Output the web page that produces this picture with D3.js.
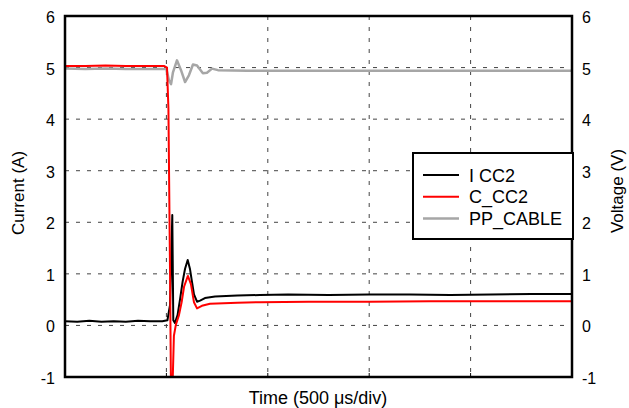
<!DOCTYPE html>
<html>
<head>
<meta charset="utf-8">
<script src="https://cdn.jsdelivr.net/npm/d3@7"></script>
<style>
  body { margin: 0; background: #fff; }
  svg text { font-family: "Liberation Sans", Arial, sans-serif; fill: #000; }
</style>
</head>
<body>
<div id="chart"></div>
<script>
// step response: I CC2 / C_CC2 (current, left axis) and PP_CABLE (voltage, right axis)
// time in microseconds, 500 us per division

const timeTicks = [0, 500, 1000, 1500, 2000, 2500]
const yTicks = [-1, 0, 1, 2, 3, 4, 5, 6]

const iccTime = [0, 60, 120, 180, 240, 300, 360, 420, 480, 505, 518, 524, 529, 534, 542, 555, 567, 580, 592, 605, 616, 626, 636, 651, 666, 690, 740, 850, 961, 1100, 1300, 1500, 1700, 1900, 2100, 2300, 2500]
const iccVal  = [0.08, 0.07, 0.09, 0.07, 0.08, 0.07, 0.09, 0.08, 0.08, 0.1, 0.4, 1.3, 2.14, 0.1, 0.05, 0.2, 0.5, 0.85, 1.1, 1.27, 1.1, 0.85, 0.6, 0.46, 0.48, 0.53, 0.56, 0.58, 0.59, 0.6, 0.59, 0.6, 0.6, 0.59, 0.6, 0.61, 0.61]

const cccTime = [0, 100, 200, 300, 400, 490, 503, 510, 518, 523, 528, 537, 547, 562, 575, 587, 606, 621, 636, 651, 675, 715, 850, 961, 1200, 1500, 1800, 2100, 2500]
const cccVal  = [5.03, 5.03, 5.04, 5.03, 5.03, 5.03, 5.0, 4.2, 1.0, -1.5, -1.5, -0.2, 0.02, 0.2, 0.45, 0.75, 0.96, 0.8, 0.45, 0.33, 0.38, 0.42, 0.44, 0.45, 0.46, 0.46, 0.47, 0.47, 0.47]

const ppTime = [0, 100, 200, 300, 400, 500, 513, 523, 532, 552, 572, 592, 611, 631, 651, 680, 700, 725, 754, 900, 1200, 1500, 1800, 2100, 2500]
const ppVal  = [4.98, 4.97, 4.98, 4.97, 4.97, 4.97, 4.75, 4.68, 4.9, 5.14, 4.95, 4.72, 4.85, 5.06, 5.04, 4.89, 4.9, 4.98, 4.95, 4.94, 4.94, 4.94, 4.94, 4.94, 4.94]

const seriesNames = ["I CC2", "C_CC2", "PP_CABLE"]
const seriesColors = ["#000000", "#ff0000", "#a6a6a6"]

const W = 629, H = 408
const margin = { top: 16, right: 57, bottom: 31, left: 65 }
const plotW = W - margin.left - margin.right
const plotH = H - margin.top - margin.bottom

const svg = d3.select("#chart").append("svg")
  .attr("width", W).attr("height", H)

const g = svg.append("g")
  .attr("transform", `translate(${margin.left},${margin.top})`)

const x = d3.scaleLinear().domain([0, 2500]).range([0, plotW])
const yLeft = d3.scaleLinear().domain([-1, 6]).range([plotH, 0])
const yRight = d3.scaleLinear().domain([-1, 6]).range([plotH, 0])

// dashed grid
g.append("g").selectAll("line")
  .data(yTicks.slice(1, -1))
  .join("line")
  .attr("x1", 0).attr("x2", plotW)
  .attr("y1", d => yLeft(d)).attr("y2", d => yLeft(d))
  .attr("stroke", "#444").attr("stroke-width", 1).attr("stroke-dasharray", "4,7")

g.append("g").selectAll("line")
  .data(timeTicks.slice(1, -1))
  .join("line")
  .attr("y1", 0).attr("y2", plotH)
  .attr("x1", d => x(d)).attr("x2", d => x(d))
  .attr("stroke", "#444").attr("stroke-width", 1).attr("stroke-dasharray", "4,7")

// small inward ticks on bottom axis
g.append("g").selectAll("line")
  .data(timeTicks.slice(1, -1))
  .join("line")
  .attr("x1", d => x(d)).attr("x2", d => x(d))
  .attr("y1", plotH).attr("y2", plotH - 4)
  .attr("stroke", "#000").attr("stroke-width", 1)

// clip traces to the plot area
svg.append("defs").append("clipPath").attr("id", "clip")
  .append("rect").attr("width", plotW).attr("height", plotH)

const traces = g.append("g").attr("clip-path", "url(#clip)")

function drawTrace(times, vals, scale, color, width) {
  const pts = times.map((t, i) => [t, vals[i]])
  traces.append("path")
    .datum(pts)
    .attr("fill", "none")
    .attr("stroke", color)
    .attr("stroke-width", width)
    .attr("stroke-linejoin", "round")
    .attr("d", d3.line().x(d => x(d[0])).y(d => scale(d[1])))
}

drawTrace(ppTime, ppVal, yRight, seriesColors[2], 2.5)
drawTrace(iccTime, iccVal, yLeft, seriesColors[0], 2)
drawTrace(cccTime, cccVal, yLeft, seriesColors[1], 2)

// frame
g.append("rect")
  .attr("width", plotW).attr("height", plotH)
  .attr("fill", "none").attr("stroke", "#000").attr("stroke-width", 2.5)

// tick labels
g.append("g").selectAll("text")
  .data(yTicks)
  .join("text")
  .attr("x", -10).attr("y", d => yLeft(d) + 7)
  .attr("text-anchor", "end")
  .style("font-size", "16px")
  .text(d => d)

g.append("g").selectAll("text")
  .data(yTicks)
  .join("text")
  .attr("x", plotW + 10).attr("y", d => yRight(d) + 7)
  .attr("text-anchor", "start")
  .style("font-size", "16px")
  .text(d => d)

// axis titles
svg.append("text")
  .attr("transform", "translate(24,193) rotate(-90)")
  .attr("text-anchor", "middle")
  .style("font-size", "17px")
  .text("Current (A)")

svg.append("text")
  .attr("transform", "translate(623,191) rotate(-90)")
  .attr("text-anchor", "middle")
  .style("font-size", "17px")
  .text("Voltage (V)")

svg.append("text")
  .attr("x", 318).attr("y", 404)
  .attr("text-anchor", "middle")
  .style("font-size", "18px")
  .text("Time (500 μs/div)")

// legend
const lg = svg.append("g").attr("transform", "translate(413,153)")
lg.append("rect")
  .attr("width", 160).attr("height", 86)
  .attr("fill", "#fff").attr("stroke", "#000").attr("stroke-width", 2)

seriesNames.forEach((name, i) => {
  const cy = 22 + i * 21.7
  lg.append("line")
    .attr("x1", 10).attr("x2", 46)
    .attr("y1", cy).attr("y2", cy)
    .attr("stroke", seriesColors[i]).attr("stroke-width", i === 2 ? 2.5 : 2)
  lg.append("text")
    .attr("x", 56).attr("y", cy + 6.5)
    .style("font-size", "18px")
    .text(name)
})
</script>
</body>
</html>
